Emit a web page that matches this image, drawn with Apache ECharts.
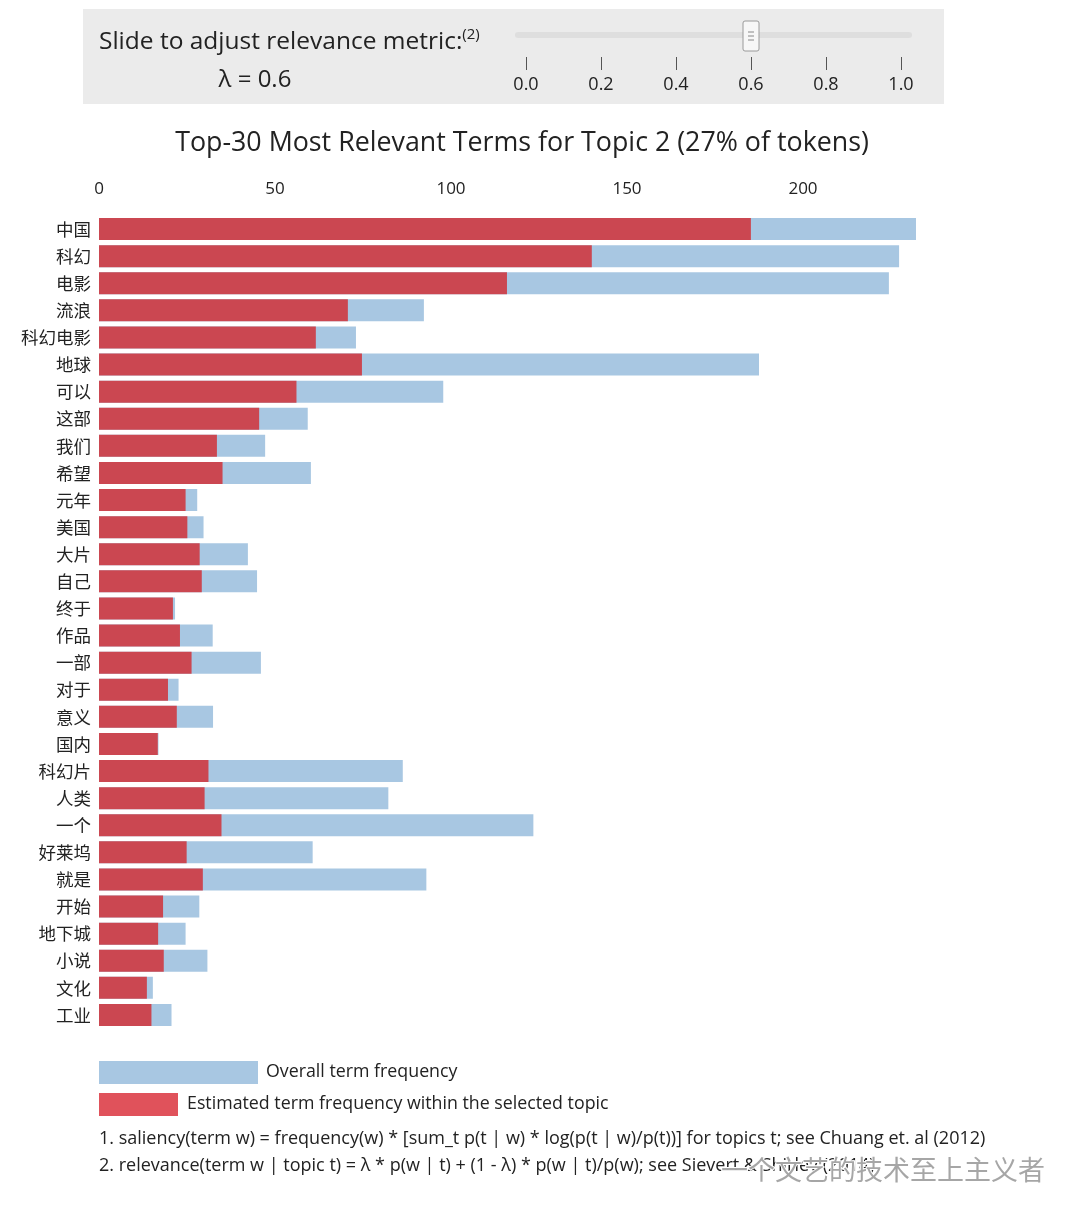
<!DOCTYPE html>
<html>
<head>
<meta charset="utf-8">
<script src="https://cdn.jsdelivr.net/npm/echarts@6/dist/echarts.min.js"></script>
<style>
html,body{margin:0;padding:0;background:#fff;}
#chart{width:1080px;height:1215px;}
</style>
</head>
<body>
<div id="chart"></div>
<script>
const terms = ['中国','科幻','电影','流浪','科幻电影','地球','可以','这部','我们','希望','元年','美国','大片','自己','终于','作品','一部','对于','意义','国内','科幻片','人类','一个','好莱坞','就是','开始','地下城','小说','文化','工业'];
const overallFreq = [232.1,227.3,224.4,92.3,73.0,187.5,97.8,59.3,47.2,60.2,27.9,29.7,42.3,44.9,21.6,32.3,46.0,22.6,32.4,16.9,86.3,82.2,123.4,60.7,93.0,28.5,24.6,30.8,15.3,20.6];
const topicFreq = [185.2,140.0,115.9,70.7,61.6,74.7,56.1,45.5,33.5,35.1,24.6,25.1,28.6,29.2,21.0,23.0,26.3,19.6,22.1,16.7,31.1,30.0,34.8,24.9,29.5,18.2,16.8,18.4,13.6,14.9];
const sliderTicks = [0, 0.2, 0.4, 0.6, 0.8, 1.0];
const lambda = 0.6;

const latin = '"Open Sans", "Noto Sans", sans-serif';
const cjk = '"Noto Sans CJK SC", "Noto Sans", sans-serif';

const chart = echarts.init(document.getElementById('chart'));
const option = {
  animation: false,
  backgroundColor: '#ffffff',
  grid: [
    {left: 99, top: 215.5, width: 844.8, height: 813},
    {left: 526, top: 15, width: 375, height: 42}
  ],
  xAxis: [
    {
      type: 'value', gridIndex: 0, position: 'top', min: 0, max: 240, interval: 50,
      axisLine: {show: false}, axisTick: {show: false}, splitLine: {show: false},
      axisLabel: {showMaxLabel: false, margin: 18, fontSize: 17, color: '#222', fontFamily: latin}
    },
    {
      type: 'value', gridIndex: 1, position: 'bottom', min: 0, max: 1, interval: 0.2,
      axisLine: {show: false}, splitLine: {show: false},
      axisTick: {show: true, length: 13, lineStyle: {color: '#555', width: 1}},
      axisLabel: {margin: 19, fontSize: 18, color: '#222', fontFamily: latin,
        formatter: v => v.toFixed(1)}
    }
  ],
  yAxis: [
    {
      type: 'category', gridIndex: 0, data: terms, inverse: true,
      axisLine: {show: false}, axisTick: {show: false},
      axisLabel: {margin: 8, fontSize: 17.5, color: '#222', fontFamily: cjk}
    },
    {type: 'value', gridIndex: 1, min: 0, max: 1, show: false}
  ],
  series: [
    {
      name: 'Overall term frequency', type: 'bar', xAxisIndex: 0, yAxisIndex: 0,
      data: overallFreq, barWidth: 22, barGap: '-100%',
      itemStyle: {color: '#a8c7e2'}, z: 1
    },
    {
      name: 'Estimated term frequency within the selected topic', type: 'bar', xAxisIndex: 0, yAxisIndex: 0,
      data: topicFreq, barWidth: 22, barGap: '-100%',
      itemStyle: {color: '#cb4751'}, z: 2
    },
    {
      type: 'custom', xAxisIndex: 1, yAxisIndex: 1, data: [[lambda, 0.5]], z: 5,
      renderItem: function (params, api) {
        const p = api.coord([api.value(0), api.value(1)]);
        const w = 16, h = 30;
        return {
          type: 'group', x: p[0], y: p[1],
          children: [
            {type: 'rect', shape: {x: -w/2, y: -h/2, width: w, height: h, r: 2},
              style: {fill: '#f7f7f7', stroke: '#9a9a9a', lineWidth: 1}},
            {type: 'line', shape: {x1: -3, y1: -4, x2: 3, y2: -4}, style: {stroke: '#888', lineWidth: 1}},
            {type: 'line', shape: {x1: -3, y1: 0, x2: 3, y2: 0}, style: {stroke: '#888', lineWidth: 1}},
            {type: 'line', shape: {x1: -3, y1: 4, x2: 3, y2: 4}, style: {stroke: '#888', lineWidth: 1}}
          ]
        };
      }
    }
  ],
  graphic: [
    {type: 'rect', z: -10, shape: {x: 83, y: 9, width: 861, height: 95}, style: {fill: '#ebebeb'}},
    {type: 'rect', z: -9, shape: {x: 515, y: 32, width: 397, height: 6, r: 3}, style: {fill: '#dedede'}},
    {type: 'text', x: 99, y: 41, style: {
      text: '{a|Slide to adjust relevance metric:}{s|(2)}',
      textVerticalAlign: 'middle',
      rich: {
        a: {fontSize: 24.5, fontFamily: latin, fill: '#222', verticalAlign: 'bottom'},
        s: {fontSize: 15, fontFamily: latin, fill: '#222', verticalAlign: 'top', padding: [0,0,12,0]}
      }
    }},
    {type: 'text', x: 255, y: 80, style: {text: 'λ = 0.6', fontSize: 24, fontFamily: latin, fill: '#222', textAlign: 'center', textVerticalAlign: 'middle'}},
    {type: 'text', x: 522, y: 143, style: {text: 'Top-30 Most Relevant Terms for Topic 2 (27% of tokens)', fontSize: 26.8, fontFamily: latin, fill: '#222', textAlign: 'center', textVerticalAlign: 'middle'}},
    {type: 'rect', shape: {x: 99, y: 1061, width: 159, height: 23}, style: {fill: '#a8c7e2'}},
    {type: 'text', x: 266, y: 1072, style: {text: 'Overall term frequency', fontSize: 17.8, fontFamily: latin, fill: '#222', textVerticalAlign: 'middle'}},
    {type: 'rect', shape: {x: 99, y: 1093, width: 79, height: 23}, style: {fill: '#e0525b'}},
    {type: 'text', x: 187, y: 1104, style: {text: 'Estimated term frequency within the selected topic', fontSize: 17.8, fontFamily: latin, fill: '#222', textVerticalAlign: 'middle'}},
    {type: 'text', x: 99, y: 1139, style: {text: '1. saliency(term w) = frequency(w) * [sum_t p(t | w) * log(p(t | w)/p(t))] for topics t; see Chuang et. al (2012)', fontSize: 18, fontFamily: latin, fill: '#222', textVerticalAlign: 'middle'}},
    {type: 'text', x: 99, y: 1166, style: {text: '2. relevance(term w | topic t) = λ * p(w | t) + (1 - λ) * p(w | t)/p(w); see Sievert & Shirley (2014)', fontSize: 18, fontFamily: latin, fill: '#222', textVerticalAlign: 'middle'}},
    {type: 'text', x: 1045, y: 1170, z: 20, style: {text: '一个文艺的技术至上主义者', fontSize: 27, fontFamily: cjk, fill: 'rgba(150,150,150,0.85)', stroke: '#ffffff', lineWidth: 2, textAlign: 'right', textVerticalAlign: 'middle'}}
  ]
};
chart.setOption(option);
</script>
</body>
</html>
